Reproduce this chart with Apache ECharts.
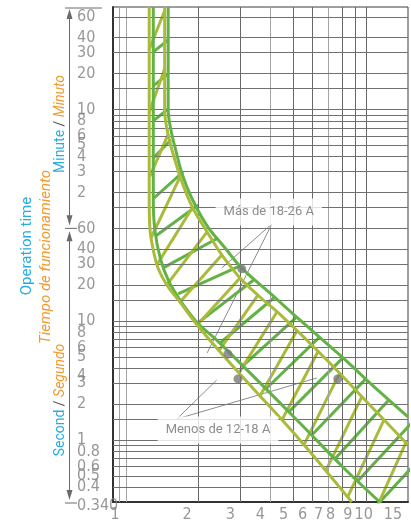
<!DOCTYPE html>
<html>
<head>
<meta charset="utf-8">
<script src="https://cdn.jsdelivr.net/npm/echarts@6/dist/echarts.min.js"></script>
<style>
  html, body { margin: 0; padding: 0; background: #fff; }
  #chart { width: 411px; height: 524px; }
</style>
</head>
<body>
<div id="chart"></div>
<script>
// x: multiple of rated current, y: operation time in seconds
const xMin = 0.883, xMax = 15
const yMin = 0.301, yMax = 4350

const xTicks = [1, 2, 3, 4, 5, 6, 7, 8, 9, 10, 15]
const xGrid = [0.944, 1, 2, 3, 4, 5, 6, 7, 8, 9, 10]
const minuteTicks = [60, 40, 30, 20, 10, 8, 6, 5, 4, 3, 2]
const secondTicks = [60, 40, 30, 20, 10, 8, 6, 5, 4, 3, 2, 1, 0.8, 0.6, 0.5, 0.4]
const minuteGrid = [60, 40, 30, 20, 15, 10, 9, 8, 7, 6, 5, 4, 3, 2, 1.5]
const secondGrid = [60, 40, 30, 20, 15, 10, 9, 8, 7, 6, 5, 4, 3, 2, 1.5, 1, 0.9, 0.8, 0.7, 0.6, 0.5, 0.4]

// band boundaries [current, seconds]
const greenHigh = [[1.50, 4350], [1.50, 593], [1.54, 403], [1.62, 263], [1.71, 175], [1.88, 108], [2.18, 63], [2.59, 41], [3.04, 27.8], [3.98, 17.2], [5.31, 10.2], [7.79, 5.18], [11.44, 2.53], [15, 1.56]]
const greenLow = [[1.30, 4350], [1.30, 104], [1.32, 58], [1.39, 33.7], [1.50, 22.1], [1.68, 15.0], [1.99, 9.6], [2.39, 6.9], [3.29, 3.66], [5.31, 1.39], [8.02, 0.593], [11.44, 0.301]]
const yellowLow = [[1.25, 4350], [1.25, 104], [1.26, 58], [1.30, 39.5], [1.36, 27.9], [1.48, 20.1], [1.68, 14.4], [1.98, 9.25], [2.47, 5.49], [3.29, 2.90], [5.31, 1.0], [8.74, 0.301]]
const yellowHigh = [[1.45, 4350], [1.45, 593], [1.50, 366], [1.60, 225], [1.73, 139], [1.90, 89], [2.18, 56], [2.51, 35.9], [2.99, 23], [3.62, 15.9], [4.38, 11.4], [6.88, 4.70], [10.39, 1.97], [15, 0.908]]

// hatching strokes [[I1, t1], [I2, t2]]
const greenRungs = [
  [[1.30, 1823], [1.50, 2298]], [[1.30, 944], [1.50, 1191]], [[1.30, 480], [1.50, 605]],
  [[1.30, 234], [1.54, 332]], [[1.31, 108], [1.73, 179]], [[1.33, 51.8], [2.00, 94.4]],
  [[1.43, 27.9], [2.42, 49.8]], [[1.65, 16.9], [2.99, 29.0]], [[1.99, 9.6], [3.45, 22.5]],
  [[2.47, 6.53], [4.18, 15.9]], [[3.07, 4.19], [5.16, 10.8]], [[3.83, 2.68], [6.43, 7.34]],
  [[4.78, 1.72], [8.02, 4.89]], [[5.96, 1.10], [10.0, 3.26]], [[7.43, 0.692], [12.47, 2.17]],
  [[9.26, 0.452], [15.55, 1.39]], [[11.44, 0.301], [19.2, 0.926]]
]
const yellowStrokes = [
  [[1.247, 1894], [1.454, 4105]], [[1.247, 560], [1.454, 1337]], [[1.259, 165], [1.496, 366]],
  [[1.271, 49.8], [1.679, 162]], [[1.346, 29.6], [1.90, 90.8]], [[1.48, 20.1], [2.18, 56]],
  [[1.68, 14.4], [2.51, 35.9]], [[1.98, 9.25], [2.99, 23]], [[2.44, 5.60], [3.55, 16.5]],
  [[2.96, 3.66], [4.26, 11.9]], [[3.62, 2.34], [5.16, 8.24]], [[4.47, 1.47], [6.31, 5.49]],
  [[5.52, 0.908], [7.79, 3.66]], [[6.81, 0.549], [9.62, 2.30]], [[8.41, 0.332], [11.9, 1.47]],
  [[10.39, 0.201], [14.68, 0.944]]
]

const dots = [[3.04, 27.4], [2.66, 5.28], [2.93, 3.26], [7.64, 3.26]]

const noteTexts = ['Más de 18-26 A', 'Menos de 12-18 A']
const noteAt = [[3.94, 82.4], [2.42, 1.21]]
const noteLeaders = [
  [[4.06, 65.3], [2.51, 27.9]], [[4.06, 65.3], [2.18, 5.38]],
  [[1.63, 1.50], [2.39, 3.19]], [[1.63, 1.50], [6.25, 3.32]]
]

// layout only
const xLabelShift = [-11, -11, -10, -10, -10, -10, -10, -12, -7, -2, -15]
const GREEN = '#62b246'
const YELLOW = '#aabb3c'
const CYAN = '#29abe2'
const ORANGE = '#f39a2c'
const TICK_FONT = "'Liberation Sans Narrow', 'DejaVu Sans Condensed', sans-serif"

let chart = echarts.init(document.getElementById('chart'))

let gridLines = []
xGrid.forEach(v => gridLines.push({ xAxis: v, lineStyle: { color: v < 1.5 || v === 4 || v === 7 ? '#a4a4a4' : '#686868' } }))
minuteGrid.forEach(m => gridLines.push({ yAxis: m * 60 }))
secondGrid.forEach(s => gridLines.push({ yAxis: s }))

let yLabels = minuteTicks.map(m => ({ value: [xMin, m * 60], name: String(m) }))
  .concat(secondTicks.map(s => ({ value: [xMin, s], name: String(s), label: s === 4 ? { offset: [-36, 8] } : undefined })))
  .concat([{ value: [xMin, yMin], name: '0.340', label: { offset: [-36, 4] } }])

let xLabels = xTicks.map((v, i) => ({ value: [v, yMin], name: String(v), label: { offset: [xLabelShift[i], 13] } }))

function segs(list) {
  return list.map(s => ({ coords: s }))
}

function boundary(data, color) {
  return {
    type: 'line', data: data, smooth: 0.35, showSymbol: false, silent: true, z: 5,
    lineStyle: { color: color, width: 3 }
  }
}

chart.setOption({
  animation: false,
  grid: { left: 113, right: 3, top: 7, bottom: 22, show: true, borderColor: '#3c3c3c', borderWidth: 1 },
  xAxis: {
    type: 'log', min: xMin, max: xMax,
    axisLine: { show: true, onZero: false, lineStyle: { color: '#333', width: 2 } },
    axisTick: { show: false }, axisLabel: { show: false }, splitLine: { show: false }
  },
  yAxis: {
    type: 'log', min: yMin, max: yMax,
    axisLine: { show: true, onZero: false, lineStyle: { color: '#333', width: 2 } },
    axisTick: { show: false }, axisLabel: { show: false }, splitLine: { show: false }
  },
  series: [
    {
      type: 'line', data: [], z: 1, silent: true,
      markLine: {
        silent: true, symbol: ['none', 'none'], animation: false,
        label: { show: false },
        lineStyle: { color: '#707070', width: 1, type: 'solid' },
        data: gridLines
      }
    },
    {
      type: 'lines', coordinateSystem: 'cartesian2d', z: 2, silent: true,
      lineStyle: { color: '#707070', width: 0.8, opacity: 1 },
      data: segs(noteLeaders)
    },
    {
      // note texts on white plates
      type: 'scatter', z: 7, silent: true, clip: false, symbolSize: 1,
      itemStyle: { color: 'rgba(0,0,0,0)' },
      label: {
        show: true, position: 'inside', formatter: p => p.name,
        color: '#6f6f6f', fontSize: 13, fontFamily: 'Roboto, sans-serif',
        backgroundColor: '#ffffff', padding: [7, 8]
      },
      data: noteTexts.map((t, i) => ({ value: noteAt[i], name: t }))
    },
    {
      type: 'lines', coordinateSystem: 'cartesian2d', z: 4, silent: true, clip: true,
      lineStyle: { color: GREEN, width: 3, opacity: 1 },
      data: segs(greenRungs)
    },
    {
      type: 'lines', coordinateSystem: 'cartesian2d', z: 4, silent: true, clip: true,
      lineStyle: { color: YELLOW, width: 3, opacity: 1 },
      data: segs(yellowStrokes)
    },
    boundary(greenLow, GREEN),
    boundary(greenHigh, GREEN),
    boundary(yellowLow, YELLOW),
    boundary(yellowHigh, YELLOW),
    {
      type: 'scatter', z: 8, silent: true, symbolSize: 9,
      itemStyle: { color: '#7b7b7b' },
      data: dots
    },
    {
      type: 'scatter', z: 6, silent: true, clip: false, symbolSize: 1,
      itemStyle: { color: 'rgba(0,0,0,0)' },
      label: {
        show: true, position: 'inside', align: 'left', verticalAlign: 'middle', offset: [-36, 0],
        formatter: p => p.name, color: '#7d7d7d', fontSize: 16, fontFamily: TICK_FONT
      },
      data: yLabels
    },
    {
      type: 'scatter', z: 6, silent: true, clip: false, symbolSize: 1,
      itemStyle: { color: 'rgba(0,0,0,0)' },
      label: {
        show: true, position: 'inside', align: 'center', verticalAlign: 'middle',
        formatter: p => p.name, color: '#7d7d7d', fontSize: 16, fontFamily: TICK_FONT
      },
      data: xLabels
    }
  ]
})

// left bracket with arrows, placed from the y scale
let yTop = chart.convertToPixel({ yAxisIndex: 0 }, yMax)
let yMid = chart.convertToPixel({ yAxisIndex: 0 }, 60)
let yBot = chart.convertToPixel({ yAxisIndex: 0 }, yMin)
let bx = 69.5
let ink = { stroke: '#6a6a6a', lineWidth: 1 }
function arrow(tipY, dir) {
  return {
    type: 'polygon', silent: true,
    shape: { points: [[bx, tipY], [bx - 3, tipY + dir * 10], [bx + 3, tipY + dir * 10]] },
    style: { fill: '#6a6a6a' }
  }
}
function txt(x, y, text, rich, size) {
  return {
    type: 'text', x: x, y: y, rotation: Math.PI / 2, silent: true,
    style: {
      text: text, align: 'center', verticalAlign: 'middle',
      font: size + 'px Roboto, sans-serif', rich: rich
    }
  }
}
let richBase = {
  c: { fill: CYAN, fontSize: 14, fontFamily: 'Roboto, sans-serif' },
  o: { fill: ORANGE, fontSize: 14, fontFamily: 'Roboto, sans-serif', fontStyle: 'italic' },
  s: { fill: '#555', fontSize: 14, fontFamily: 'Roboto, sans-serif' }
}
chart.setOption({
  graphic: [
    { type: 'line', silent: true, shape: { x1: 65, y1: yTop + 1, x2: 102, y2: yTop + 1 }, style: ink },
    { type: 'line', silent: true, shape: { x1: bx, y1: yTop + 4, x2: bx, y2: yMid - 4 }, style: ink },
    { type: 'line', silent: true, shape: { x1: 65, y1: yMid, x2: 77, y2: yMid }, style: ink },
    { type: 'line', silent: true, shape: { x1: bx, y1: yMid + 4, x2: bx, y2: yBot - 4 }, style: ink },
    { type: 'line', silent: true, shape: { x1: 65, y1: yBot + 1, x2: 77, y2: yBot + 1 }, style: ink },
    arrow(yTop + 2, 1), arrow(yMid - 3, -1), arrow(yMid + 3, 1), arrow(yBot - 2, -1),
    txt(60, 124, '{c|Minute} {s|/} {o|Minuto}', richBase, 14),
    txt(60, 400, '{c|Second} {s|/} {o|Segundo}', richBase, 14),
    txt(27, 246, '{c|Operation time}', { c: { fill: CYAN, fontSize: 15, fontFamily: 'Roboto, sans-serif' } }, 15),
    txt(46, 257, '{o|Tiempo de funcionamiento}', { o: { fill: ORANGE, fontSize: 15, fontFamily: 'Roboto, sans-serif', fontStyle: 'italic' } }, 15)
  ]
})
</script>
</body>
</html>
